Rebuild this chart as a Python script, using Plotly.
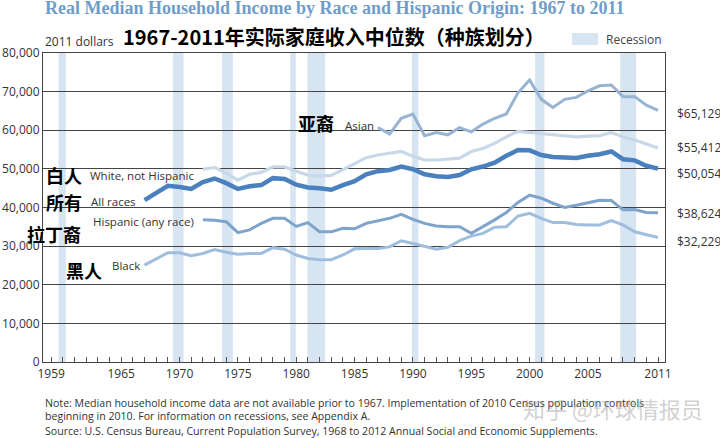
import plotly.graph_objects as go

# ---------------- data ----------------
years_all = list(range(1967, 2012))
years_72 = list(range(1972, 2012))
years_asian = list(range(1987, 2012))

all_races = [41900, 43800, 45600, 45300, 44800, 46600, 47500, 46300, 44800, 45500,
             45800, 47600, 47400, 45900, 45200, 45000, 44600, 45800, 46800, 48600,
             49400, 49700, 50600, 49900, 48600, 48100, 47900, 48400, 49900, 50600,
             51600, 53400, 54900, 54800, 53600, 53100, 53000, 52800, 53400, 53800,
             54500, 52500, 52200, 50800, 50054]

black = [25100, 26800, 28300, 28300, 27500, 28100, 29100, 28400, 27900, 28100,
         28100, 29600, 29200, 27700, 26800, 26500, 26500, 27700, 29300, 29400,
         29400, 29800, 31400, 30700, 30000, 29200, 29700, 31400, 32600, 33300,
         34900, 35000, 37800, 38500, 37200, 36100, 36100, 35600, 35500, 35500,
         36600, 35500, 33700, 32900, 32229]

hispanic = [36800, 36700, 36300, 33500, 34200, 35900, 37200, 37200, 35100, 36100,
            33700, 33700, 34600, 34500, 35900, 36600, 37200, 38200, 36900, 35900,
            35200, 35000, 35000, 33300, 35000, 36800, 38700, 41300, 43200, 42400,
            41100, 40000, 40600, 41200, 41900, 41800, 39400, 39500, 38700, 38624]

white_nh = [49900, 50400, 48900, 47100, 48600, 49100, 50500, 50500, 49400, 48400,
            48100, 48300, 49800, 51300, 52900, 53600, 54000, 54500, 53300, 52300,
            52300, 52500, 52800, 54500, 55300, 56600, 58300, 59700, 59400, 59000,
            58700, 58500, 58300, 58500, 58600, 59400, 58300, 57500, 56400, 55412]

asian = [60700, 59000, 63100, 64200, 58600, 59400, 58800, 60700, 59600, 61600,
         63100, 64200, 69700, 73000, 68000, 65900, 68000, 68500, 70200, 71500,
         71700, 68700, 68700, 66500, 65129]

recession_start = [1959.63, 1969.43, 1973.63, 1979.48, 1980.96, 1989.91, 2000.47, 2007.76]
recession_end = [1960.26, 1970.34, 1974.57, 1979.97, 1982.48, 1990.47, 2001.27, 2009.13]

x_tick_years = [1959, 1965, 1970, 1975, 1980, 1985, 1990, 1995, 2000, 2005, 2011]
y_ticks = [0, 10000, 20000, 30000, 40000, 50000, 60000, 70000, 80000]

# ---------------- geometry helpers (pixels -> paper) ----------------
W, H = 720, 438
ML, MR, MT, MB = 43, 55, 53, 76
PW, PH = W - ML - MR, H - MT - MB


def px(x):
    return (x - ML) / PW


def py(y):
    return (H - MB - y) / PH


SANS = "Open Sans, Liberation Sans, sans-serif"
CJK = "Noto Sans CJK SC, sans-serif"
TXT = "#333333"

fig = go.Figure()

series = [
    ("Black", years_all, black, "#9fbedd", 3),
    ("Hispanic (any race)", years_72, hispanic, "#7ea4cb", 3),
    ("White, not Hispanic", years_72, white_nh, "#c9d8e8", 3.2),
    ("Asian", years_asian, asian, "#97b4d3", 3),
    ("All races", years_all, all_races, "#4a80be", 4.5),
]
for name, xs, ys, col, w in series:
    fig.add_trace(go.Scatter(x=xs, y=ys, mode="lines", name=name,
                             line=dict(color=col, width=w), hoverinfo="skip"))

shapes = []
for s, e in zip(recession_start, recession_end):
    shapes.append(dict(type="rect", xref="x", yref="y", x0=s, x1=e, y0=0, y1=80000,
                       fillcolor="#d7e5f2", line=dict(width=0), layer="below"))
# legend swatch for recession
shapes.append(dict(type="rect", xref="paper", yref="paper", x0=px(572), x1=px(598),
                   y0=py(45), y1=py(33), fillcolor="#d7e5f2", line=dict(width=0)))

ann = []


def add_text(text, x, y, size, color=TXT, family=SANS, xanchor="left", bold=False):
    if bold:
        text = "<b>" + text + "</b>"
    ann.append(dict(text=text, x=px(x), y=py(y), xref="paper", yref="paper",
                    xanchor=xanchor, yanchor="middle", showarrow=False,
                    font=dict(size=size, color=color, family=family)))


# titles
add_text("Real Median Household Income by Race and Hispanic Origin: 1967 to 2011",
         43, 8, 18, color="#6f9dca", family="Liberation Serif, serif", bold=True)
add_text("1967-2011年实际家庭收入中位数（种族划分）", 334, 36, 20, color="#000000",
         family=CJK, xanchor="center", bold=True)
add_text("2011 dollars", 43, 41, 12)
add_text("Recession", 604, 39, 12, color="#444444")

# series labels (English)
add_text("White, not Hispanic", 88, 175, 11.5)
add_text("All races", 89, 201.5, 11.5)
add_text("Hispanic (any race)", 91, 221.5, 11.5)
add_text("Black", 110, 265, 11.5)
add_text("Asian", 343, 125, 11.5)

# series labels (Chinese)
add_text("白人", 84, 175, 18, color="#000000", family=CJK, xanchor="right", bold=True)
add_text("所有", 84, 201.5, 18, color="#000000", family=CJK, xanchor="right", bold=True)
add_text("拉丁裔", 83, 234, 18, color="#000000", family=CJK, xanchor="right", bold=True)
add_text("黑人", 104, 270, 18, color="#000000", family=CJK, xanchor="right", bold=True)
add_text("亚裔", 336, 122.5, 18, color="#000000", family=CJK, xanchor="right", bold=True)

# end-value labels
end_vals = [asian[-1], white_nh[-1], all_races[-1], hispanic[-1], black[-1]]
end_shift = [-3, 0, -4.5, -1, -4]
for v, sh in zip(end_vals, end_shift):
    ann.append(dict(text="${:,}".format(v), x=px(675), y=v, xref="paper", yref="y",
                    xanchor="left", yanchor="middle", yshift=sh, showarrow=False,
                    font=dict(size=12, color=TXT, family=SANS)))

# notes
add_text("Note: Median household income data are not available prior to 1967. "
         "Implementation of 2010 Census population controls", 43, 402.5, 10.6)
add_text("beginning in 2010. For information on recessions, see Appendix A.", 43, 416, 10.6)
add_text("Source: U.S. Census Bureau, Current Population Survey, 1968 to 2012 Annual "
         "Social and Economic Supplements.", 43, 431, 10.6)

# watermark
add_text("知乎 @环球情报员", 613, 408, 22, color="rgba(150,150,150,0.45)",
         family=CJK, xanchor="center")

fig.update_layout(
    width=W, height=H,
    margin=dict(l=ML, r=MR, t=MT, b=MB, pad=0, autoexpand=False),
    paper_bgcolor="white", plot_bgcolor="white",
    showlegend=False,
    shapes=shapes, annotations=ann,
    xaxis=dict(range=[1958.3, 2011.6], tickmode="array", tickvals=x_tick_years,
               ticktext=[str(t) for t in x_tick_years], automargin=False,
               ticks="inside", ticklen=5, tickcolor="#555555", tickwidth=1,
               minor=dict(dtick=1, tick0=1959, ticks="inside", ticklen=5,
                          tickcolor="#555555", tickwidth=1, showgrid=False),
               showline=True, mirror=True, linecolor="#444444", linewidth=1.2,
               showgrid=False, zeroline=False,
               tickfont=dict(size=12, color=TXT, family=SANS), fixedrange=True),
    yaxis=dict(range=[0, 80000], tickmode="array", tickvals=y_ticks,
               ticktext=["{:,}".format(t) for t in y_ticks], automargin=False,
               ticks="", showline=True, mirror=True, linecolor="#444444", linewidth=1.2,
               showgrid=True, gridcolor="#444444", gridwidth=1.1, zeroline=False,
               tickfont=dict(size=12, color=TXT, family=SANS), fixedrange=True),
)

fig.write_html("out.html")
